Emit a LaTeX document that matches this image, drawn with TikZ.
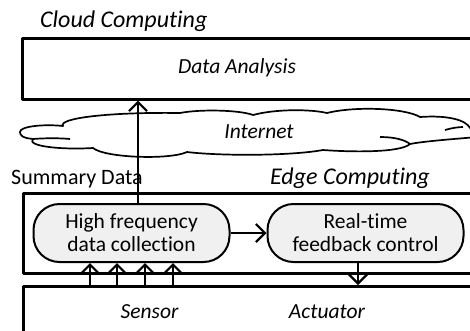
\documentclass[tikz,border=0pt]{standalone}
\usepackage{fontspec}
\setmainfont[Ligatures={NoCommon}]{Carlito}
\usetikzlibrary{arrows.meta}
\begin{document}
\begin{tikzpicture}[x=1pt,y=-1pt, line join=round,
  frame/.style={draw, line width=2.6pt, inner sep=0pt, anchor=north west},
  proc/.style={draw, line width=2pt, fill=gray!12, rounded corners=26pt, minimum width=196pt, minimum height=58pt, align=center, inner sep=0pt, font=\fontsize{21.5}{23}\selectfont},
  lbl/.style={font=\fontsize{22}{24}\selectfont},
  ilbl/.style={font=\fontsize{21.5}{24}\selectfont\itshape},
  title/.style={font=\fontsize{24}{27}\selectfont\itshape},
  cloudline/.style={draw, line width=1.7pt, fill=white},
  arr/.style={line width=2pt, -{Straight Barb[length=9pt,width=18pt,line width=2.2pt]}}]
\useasboundingbox (0,0) rectangle (470,330);
\clip (0,0) rectangle (470,330);
% boxes
\node[frame, minimum width=480pt, minimum height=61pt] (cloudbox) at (21,37) {};
\node[frame, minimum width=480pt, minimum height=80pt] (edgebox) at (22,192) {};
\node[frame, minimum width=480pt, minimum height=60pt] (sensorbox) at (22,285) {};
% cloud
\path[cloudline] (20,132) .. controls (20,126) and (45,124) .. (63,126)
  .. controls (58,118) and (110,112) .. (180,113)
  .. controls (200,109) and (240,110) .. (253,115)
  .. controls (275,109) and (310,109) .. (327,113)
  .. controls (355,106) and (405,108) .. (420,117)
  .. controls (448,115) and (466,120) .. (470,128)
  -- (478,128) -- (478,137)
  .. controls (440,140) and (420,142) .. (410,144)
  .. controls (400,153) and (350,152) .. (323,150)
  .. controls (290,156) and (220,156) .. (187,152)
  .. controls (170,160) and (105,158) .. (93,148)
  .. controls (60,150) and (26,146) .. (33,139)
  .. controls (22,138) and (20,135) .. (20,132) -- cycle;
\draw[line width=1.7pt] (33,139) .. controls (45,138) and (60,138) .. (70,139);
\draw[line width=1.7pt] (380,137) .. controls (395,137) and (405,140) .. (410,144);
\draw[line width=1.7pt] (445,130) .. controls (452,128) and (458,127) .. (463,127);
% texts
\node[title, anchor=base west, inner sep=0pt] (cct) at (40,27) {Cloud Computing};
\node[ilbl] (da) at (237,68) {Data Analysis};
\node[ilbl] (inet) at (259,132) {Internet};
\node[lbl, anchor=base west, inner sep=0pt] (sd) at (11,184) {Summary Data};
\node[title, anchor=base west, inner sep=0pt] (ect) at (270,184) {Edge Computing};
\node[ilbl, anchor=base] (sen) at (149.5,318) {Sensor};
\node[ilbl, anchor=base] (act) at (327,318) {Actuator};
% process nodes
\node[proc] (hf) at (131.5,233) {High frequency\\data collection};
\node[proc] (rt) at (365.5,233) {Real-time\\feedback control};
% connectors
\draw[arr] (hf) -- (rt);
\coordinate (va) at (138,0);
\draw[arr] (hf.north -| va) -- (cloudbox.south -| va);
\foreach \i/\x in {1/90,2/117,3/145,4/173} {
  \coordinate (s\i) at (\x,0);
  \draw[arr] (sensorbox.north -| s\i) -- (hf.south -| s\i);
}
\coordinate (vb) at (358,0);
\draw[arr] (rt.south -| vb) -- (sensorbox.north -| vb);
\end{tikzpicture}
\end{document}
